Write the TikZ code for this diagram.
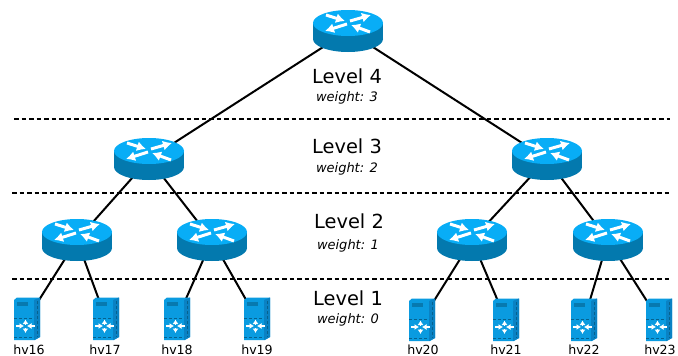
\documentclass[tikz,border=0pt]{standalone}
\usepackage{fontspec}
\setmainfont{DejaVu Sans}
\usetikzlibrary{backgrounds,arrows.meta}
\definecolor{routertop}{HTML}{08ADF6}
\definecolor{routerside}{HTML}{0379AE}
\definecolor{switchface}{HTML}{0A9BE0}
\definecolor{switchside}{HTML}{0A82C4}
\definecolor{switchdark}{HTML}{05628F}
\tikzset{
	routerarrow/.style={white, line width=3pt, -{Latex[length=9pt,width=10pt]}},
	switcharrow/.style={white, line width=1.6pt, -{Latex[length=4.5pt,width=6pt]}},
	router/.style={minimum width=70pt, minimum height=43pt, inner sep=0pt, path picture={
		\begin{scope}[shift={(path picture bounding box.center)}]
			\fill [routerside] (0,8) ellipse [x radius=35, y radius=13];
			\fill [routerside] (-35,-8) rectangle (35,8);
			\fill [routertop] (0,-8) ellipse [x radius=35, y radius=13];
			\draw [routerarrow] (-22,-16) -- (-3,-10);
			\draw [routerarrow] (2,-10) -- (23,-16);
			\draw [routerarrow] (-1,-7) -- (-23,0);
			\draw [routerarrow] (22,1) -- (3,-6);
		\end{scope}
	}},
	switchbox/.style={minimum width=27pt, minimum height=43pt, inner sep=0pt, path picture={
		\begin{scope}[shift={(path picture bounding box.center)}]
			\fill [switchface] (-13,-19) -- (-10,-21.5) -- (13,-21.5) -- (13,18) -- (8,21) -- (-13,21) -- cycle;
			\fill [switchside] (7,-19) -- (13,-21.5) -- (13,18) -- (7,21) -- cycle;
			\draw [switchdark, densely dashed, line width=1pt] (10,-18) -- (10,18);
			\draw [switchdark, densely dashed, line width=.8pt] (-13,-1) -- (7,-1);
			\draw [switchdark, densely dashed, line width=.8pt] (-13,18.5) -- (7,18.5);
			\fill [switchdark!60!switchface] (-10,-17) rectangle (1,-13);
			\draw [switcharrow] (-11,7) -- (-3,7);
			\draw [switcharrow] (8,7) -- (0,7);
			\draw [switcharrow] (-1.5,5) -- (-1.5,0.5);
			\draw [switcharrow] (-1.5,9) -- (-1.5,14);
		\end{scope}
	}},
	levellabel/.style={font=\fontsize{19.4}{20}\selectfont},
	weightlabel/.style={font=\fontsize{13}{14}\selectfont\itshape},
	hostlabel/.style={font=\fontsize{12.6}{13}\selectfont, inner sep=0pt, anchor=base},
	sepline/.style={dash pattern=on 4.5pt off 3pt, line width=1.8pt},
	uplink/.style={line width=2pt}
}
\begin{document}
\begin{tikzpicture}[x=1pt,y=-1pt]
	\useasboundingbox (0,0) rectangle (678,356);
	\node [router] (l4) at (348,31) {};
	\node [router] (l3a) at (149,159) {};
	\node [router] (l3b) at (547,159) {};
	\node [router] (l2a) at (77,240) {};
	\node [router] (l2b) at (212,240) {};
	\node [router] (l2c) at (472,240) {};
	\node [router] (l2d) at (608,240) {};
	\node [switchbox] (s16) at (27,319) {};
	\node [switchbox] (s17) at (106,319) {};
	\node [switchbox] (s18) at (177,319) {};
	\node [switchbox] (s19) at (257,319) {};
	\node [switchbox] (s20) at (422,320) {};
	\node [switchbox] (s21) at (506,320) {};
	\node [switchbox] (s22) at (584,320) {};
	\node [switchbox] (s23) at (659,320) {};
	\node [hostlabel] (hv16) at (29,354) {hv16};
	\node [hostlabel] (hv17) at (105,354) {hv17};
	\node [hostlabel] (hv18) at (177,354) {hv18};
	\node [hostlabel] (hv19) at (257,354) {hv19};
	\node [hostlabel] (hv20) at (423,354.4) {hv20};
	\node [hostlabel] (hv21) at (506,354.4) {hv21};
	\node [hostlabel] (hv22) at (584,354.4) {hv22};
	\node [hostlabel] (hv23) at (660,354.4) {hv23};
	\node [levellabel] (t4) at (347,76) {Level 4};
	\node [weightlabel] (w4) at (347,97.5) {weight: 3};
	\node [levellabel] (t3) at (347,146) {Level 3};
	\node [weightlabel] (w3) at (347,168.5) {weight: 2};
	\node [levellabel] (t2) at (349,221) {Level 2};
	\node [weightlabel] (w2) at (348,245.5) {weight: 1};
	\node [levellabel] (t1) at (348,298) {Level 1};
	\node [weightlabel] (w1) at (348,319.5) {weight: 0};
	\coordinate (d4a) at (14,119);
	\coordinate (d4b) at (670,119);
	\coordinate (d3a) at (12,193);
	\coordinate (d3b) at (670,193);
	\coordinate (d2a) at (12,279);
	\coordinate (d2b) at (670,279);
	\draw [sepline] (d4a) -- (d4b);
	\draw [sepline] (d3a) -- (d3b);
	\draw [sepline] (d2a) -- (d2b);
	\begin{pgfonlayer}{background}
		\draw [uplink] (l4.center) -- (l3a.center);
		\draw [uplink] (l4.center) -- (l3b.center);
		\draw [uplink] (l3a.center) -- (l2a.center);
		\draw [uplink] (l3a.center) -- (l2b.center);
		\draw [uplink] (l3b.center) -- (l2c.center);
		\draw [uplink] (l3b.center) -- (l2d.center);
		\draw [uplink] (l2a.center) -- (s16.center);
		\draw [uplink] (l2a.center) -- (s17.center);
		\draw [uplink] (l2b.center) -- (s18.center);
		\draw [uplink] (l2b.center) -- (s19.center);
		\draw [uplink] (l2c.center) -- (s20.center);
		\draw [uplink] (l2c.center) -- (s21.center);
		\draw [uplink] (l2d.center) -- (s22.center);
		\draw [uplink] (l2d.center) -- (s23.center);
	\end{pgfonlayer}
\end{tikzpicture}
\end{document}
